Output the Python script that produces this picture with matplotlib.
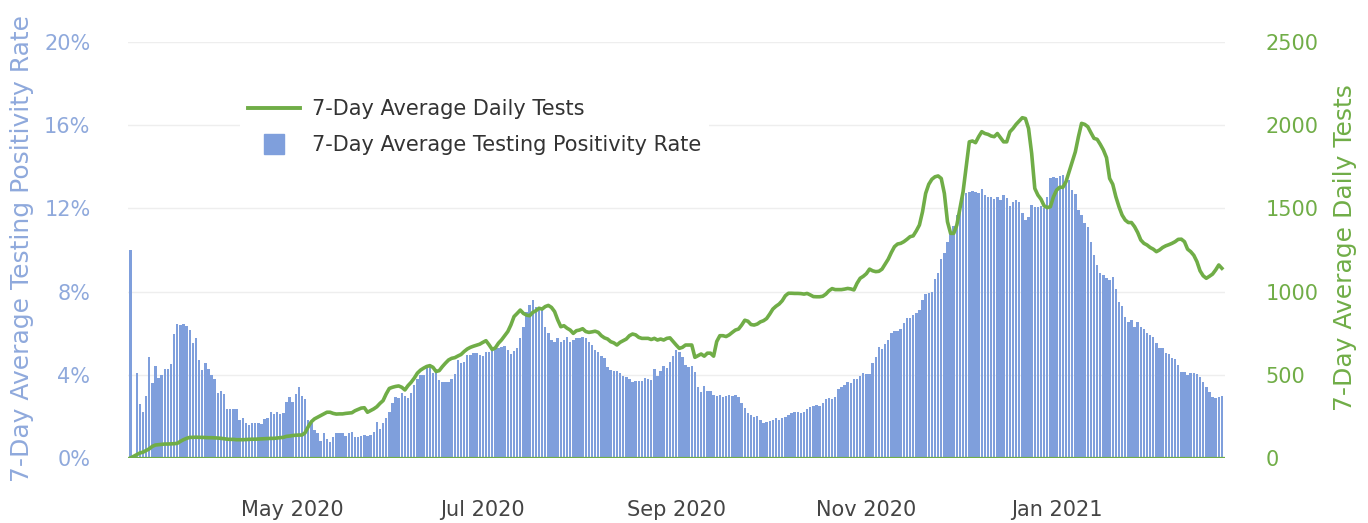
import numpy as np
import matplotlib
matplotlib.use('Agg')
import matplotlib.pyplot as plt
import matplotlib.dates as mdates
from matplotlib.lines import Line2D

# ---------------- data ----------------
start_date = '2020-03-10'

# 7-day average testing positivity rate (%), daily, in consecutive segments
pos_mar_may = [10.0, 0, 4.07, 2.6, 2.2, 3.0, 4.84, 3.6, 4.4, 3.83,
               4.0, 4.3, 4.3, 4.5, 5.96, 6.43, 6.4, 6.43, 6.35, 6.15,
               5.54, 5.75, 4.7, 4.23, 4.55, 4.26, 4.0, 3.78, 3.11, 3.24,
               3.08, 2.36, 2.36, 2.36, 2.36, 1.83, 1.9, 1.67, 1.57, 1.7,
               1.68, 1.68, 1.65, 1.87, 1.94, 2.2, 2.1, 2.23, 2.1, 2.15,
               2.7, 2.95, 2.7, 3.06, 3.43, 3.0, 2.86]
pos_may_jul = [1.83, 1.67, 1.35, 1.19, 0.83, 1.2, 0.9, 0.79, 1.02, 1.19,
               1.2, 1.19, 1.06, 1.19, 1.27, 1.0, 1.0, 1.06, 1.1, 1.06,
               1.1, 1.27, 1.75, 1.4, 1.67, 1.9, 2.23, 2.63, 2.95, 2.9,
               3.11, 3.0, 2.9, 3.11, 3.5, 3.78, 4.0, 4.0, 4.36, 4.47,
               4.07, 4.3, 3.75, 3.67, 3.67, 3.67, 3.78, 4.04, 4.71, 4.55,
               4.63, 4.95, 4.95, 5.03, 5.06, 4.95, 4.9, 5.11, 5.11, 5.2]
pos_jul_aug = [5.35, 5.3, 5.35, 5.4, 5.2, 5.0, 5.15, 5.3, 5.75, 6.3,
               7.03, 7.36, 7.6, 7.27, 7.1, 7.2, 6.3, 6.0, 5.67, 5.59,
               5.75, 5.6, 5.67, 5.83, 5.6, 5.67, 5.75, 5.78, 5.83, 5.75,
               5.59, 5.43, 5.19, 5.11, 4.9, 4.8, 4.38, 4.25, 4.2, 4.18,
               4.1, 3.94, 3.9, 3.78, 3.67, 3.7, 3.72, 3.72, 3.83, 3.8,
               3.75, 4.28, 3.96, 4.2, 4.44, 4.35, 4.6, 4.9]
pos_sep_oct = [5.19, 5.1, 4.84, 4.47, 4.36, 4.4, 4.15, 3.43, 3.19, 3.46,
               3.2, 3.2, 3.03, 3.0, 3.05, 2.95, 3.0, 3.05, 3.0, 3.02,
               2.95, 2.66, 2.39, 2.18, 2.05, 1.96, 2.03, 1.83, 1.7, 1.75,
               1.78, 1.83, 1.9, 1.83, 1.9, 1.98, 2.07, 2.15, 2.23, 2.23,
               2.18, 2.23, 2.34, 2.47, 2.5, 2.55, 2.5, 2.63, 2.82, 2.87,
               2.82, 2.95, 3.3, 3.43, 3.5, 3.67, 3.6, 3.78, 3.78]
pos_oct_dec = [3.95, 4.07, 4.05, 4.05, 4.58, 4.87, 5.32, 5.22, 5.48, 5.67,
               6.03, 6.1, 6.12, 6.19, 6.51, 6.71, 6.75, 6.88, 6.96, 7.12,
               7.6, 7.88, 7.95, 8.0, 8.59, 8.91, 9.55, 9.84, 10.4, 10.8,
               11.15, 11.68, 12.16, 12.56, 12.72, 12.8, 12.85, 12.8, 12.72, 12.92,
               12.64, 12.56, 12.53, 12.43, 12.56, 12.4, 12.64, 12.48, 12.1, 12.3,
               12.4, 12.3, 11.76, 11.44, 11.6, 12.16, 12.08, 12.08, 12.1, 12.0]
pos_dec_feb = [12.56, 13.45, 13.5, 13.45, 13.56, 13.6, 13.37, 13.37, 12.88, 12.69,
               11.92, 11.68, 11.31, 11.09, 10.4, 9.76, 9.28, 8.88, 8.8, 8.64,
               8.56, 8.72, 8.11, 7.51, 7.31, 6.79, 6.55, 6.63, 6.31, 6.55,
               6.31, 6.19, 5.99, 5.91, 5.8, 5.54, 5.27, 5.27, 5.06, 5.0,
               4.79, 4.75, 4.47, 4.15, 4.15, 3.99, 4.07, 4.07, 4.04, 3.88,
               3.67, 3.4, 3.19, 2.95, 2.87, 2.95, 2.99]

# 7-day average daily tests, daily, same segments
tests_mar_may = [0, 10, 20, 30, 35, 45, 55, 70, 78, 80,
                 82, 84, 84, 85, 86, 88, 100, 110, 118, 124,
                 124, 125, 124, 124, 123, 122, 122, 121, 120, 118,
                 116, 113, 112, 112, 110, 110, 110, 111, 112, 113,
                 113, 114, 115, 116, 117, 118, 118, 120, 122, 124,
                 130, 132, 135, 137, 138, 138, 152]
tests_may_jul = [188, 218, 235, 245, 255, 265, 275, 275, 268, 264,
                 265, 265, 268, 270, 272, 284, 292, 300, 302, 275,
                 285, 295, 308, 328, 345, 385, 418, 425, 430, 433,
                 425, 409, 435, 455, 480, 510, 528, 540, 550, 555,
                 545, 520, 525, 549, 570, 589, 599, 603, 613, 622,
                 640, 655, 665, 672, 678, 684, 695, 705, 680, 652]
tests_jul_aug = [662, 690, 710, 735, 760, 800, 850, 869, 889, 869,
                 859, 855, 875, 885, 900, 895, 910, 917, 905, 880,
                 830, 789, 795, 780, 769, 749, 765, 769, 777, 760,
                 755, 758, 762, 755, 735, 722, 715, 699, 692, 679,
                 695, 705, 715, 735, 745, 740, 725, 719, 719, 719,
                 712, 719, 709, 715, 709, 719, 722, 700]
tests_sep_oct = [679, 659, 665, 679, 679, 679, 605, 615, 625, 612,
                 630, 630, 612, 700, 735, 735, 730, 740, 755, 769,
                 775, 799, 828, 822, 802, 799, 805, 818, 825, 838,
                 865, 895, 912, 925, 945, 975, 990, 990, 989, 989,
                 988, 985, 989, 980, 970, 969, 969, 972, 985, 1005,
                 1018, 1012, 1012, 1012, 1015, 1019, 1016, 1010, 1050]
tests_oct_dec = [1080, 1092, 1108, 1135, 1125, 1120, 1122, 1135, 1165, 1195,
                 1235, 1270, 1286, 1290, 1300, 1314, 1330, 1335, 1365, 1400,
                 1480, 1590, 1645, 1675, 1690, 1695, 1680, 1590, 1420, 1350,
                 1350, 1400, 1500, 1600, 1750, 1900, 1905, 1895, 1931, 1961,
                 1950, 1945, 1935, 1931, 1950, 1925, 1900, 1900, 1960, 1980,
                 2005, 2025, 2045, 2040, 1980, 1830, 1620, 1580, 1555, 1515]
tests_dec_feb = [1505, 1510, 1570, 1610, 1627, 1627, 1660, 1721, 1780, 1840,
                 1931, 2011, 2005, 1991, 1955, 1921, 1915, 1885, 1851, 1805,
                 1680, 1645, 1570, 1510, 1460, 1430, 1415, 1415, 1390, 1355,
                 1310, 1290, 1280, 1265, 1255, 1240, 1250, 1265, 1275, 1282,
                 1290, 1300, 1314, 1315, 1300, 1255, 1240, 1218, 1180, 1125,
                 1095, 1080, 1092, 1105, 1130, 1160, 1140]

tick_dates = ['2020-05-01', '2020-07-01', '2020-09-01', '2020-11-01', '2021-01-01']
tick_labels = ['May 2020', 'Jul 2020', 'Sep 2020', 'Nov 2020', 'Jan 2021']
left_ticks = [0, 4, 8, 12, 16, 20]
left_tick_labels = ['0%', '4%', '8%', '12%', '16%', '20%']
right_ticks = [0, 500, 1000, 1500, 2000, 2500]
right_tick_labels = ['0', '500', '1000', '1500', '2000', '2500']

line_label = '7-Day Average Daily Tests'
bar_label = '7-Day Average Testing Positivity Rate'
left_title = '7-Day Average Testing Positivity Rate'
right_title = '7-Day Average Daily Tests'

# ---------------- build ----------------
positivity = np.array(pos_mar_may + pos_may_jul + pos_jul_aug + pos_sep_oct
                      + pos_oct_dec + pos_dec_feb, dtype=float)
tests = np.array(tests_mar_may + tests_may_jul + tests_jul_aug + tests_sep_oct
                 + tests_oct_dec + tests_dec_feb, dtype=float)
d0 = np.datetime64(start_date)
dates = np.arange(d0, d0 + len(positivity))
x = mdates.date2num(dates)
x_line = mdates.date2num(np.arange(d0, d0 + len(tests)))

BAR = '#7f9fdc'
GREEN = '#70ad47'
LEFTC = '#8fa9dc'
TXT = '#444444'

W, H = 1368, 523
fig = plt.figure(figsize=(W / 100, H / 100), dpi=100)
ax = fig.add_axes([128 / W, 1 - 458 / H, (1225 - 128) / W, (458 - 42) / H])
ax2 = ax.twinx()

ax.bar(x, positivity, width=0.78, color=BAR, zorder=2, linewidth=0)
ax.set_ylim(0, 20)
ax.set_xlim(x[0] - 0.8, x[0] + 351.0)
ax.set_yticks(left_ticks)
ax.set_yticklabels(left_tick_labels)
ax.yaxis.grid(True, color='#eeeeee', lw=1)
ax.set_axisbelow(True)
ax.set_xticks(mdates.date2num(np.array(tick_dates, dtype='datetime64[D]')))
ax.set_xticklabels(tick_labels)
ax.tick_params(axis='x', length=0, pad=30, labelsize=15, labelcolor=TXT)
ax.tick_params(axis='y', length=0, pad=27, labelsize=15, labelcolor=LEFTC)

ax2.plot(x_line, tests, color=GREEN, lw=2.6, zorder=3, solid_joinstyle='round')
ax2.set_ylim(0, 2500)
ax2.set_yticks(right_ticks)
ax2.set_yticklabels(right_tick_labels)
ax2.tick_params(axis='y', length=0, pad=29, labelsize=15, labelcolor=GREEN)
ax2.axhline(0, color=GREEN, lw=1.6, zorder=4)

for a in (ax, ax2):
    for s in a.spines.values():
        s.set_visible(False)

fig.text(22 / W, 1 - 248 / H, left_title, rotation=90, ha='center', va='center',
         fontsize=18, color=LEFTC)
fig.text(1345 / W, 1 - 248 / H, right_title, rotation=90, ha='center', va='center',
         fontsize=18, color=GREEN)

handles = [Line2D([], [], color=GREEN, lw=2.8),
           Line2D([], [], marker='s', ls='none', markersize=14.5, color=BAR)]
leg = ax2.legend(handles, [line_label, bar_label], loc='upper left',
                 bbox_to_anchor=(240 / W, 1 - 91 / H), bbox_transform=fig.transFigure,
                 frameon=True, facecolor='white', edgecolor='none', framealpha=1,
                 fancybox=False, fontsize=15, handlelength=2.5, handletextpad=0.55,
                 labelspacing=0.75, borderpad=0.4, borderaxespad=0)
for t in leg.get_texts():
    t.set_color('#333333')

fig.savefig('out.png', dpi=100, facecolor='white')
